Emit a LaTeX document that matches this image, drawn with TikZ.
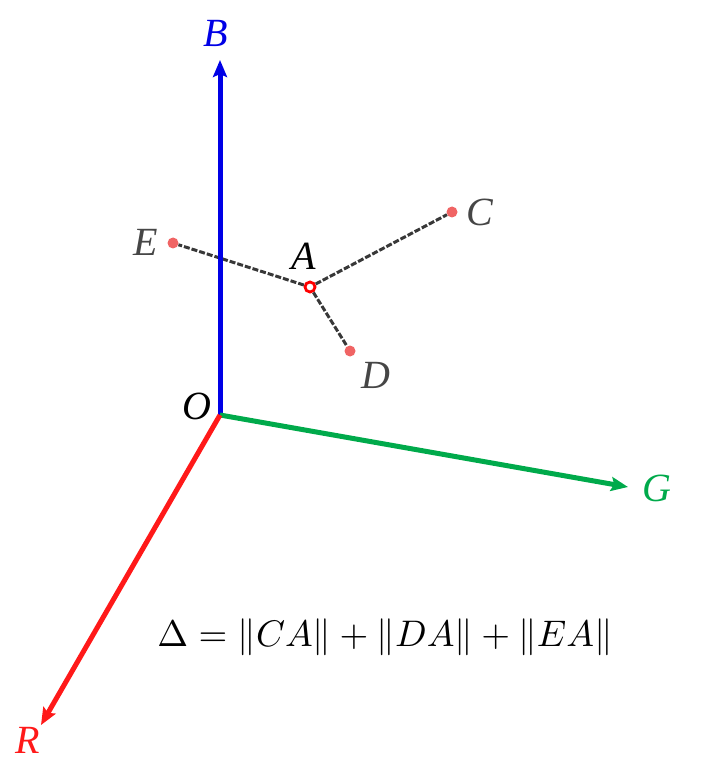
\documentclass[tikz,border=0pt]{standalone}
\usepackage{fontspec}
\usepackage{graphicx}
\setmainfont{Liberation Serif}
\usetikzlibrary{arrows.meta}
\definecolor{axB}{RGB}{0,0,230}
\definecolor{axG}{RGB}{0,170,75}
\definecolor{axR}{RGB}{255,25,25}
\definecolor{ptc}{RGB}{240,100,100}
\definecolor{lblg}{RGB}{70,70,70}
\begin{document}
\begin{tikzpicture}[x=1pt,y=-1pt,
  axis/.style={line width=5pt,-{Stealth[length=17pt,width=14pt,inset=3pt]}},
  link/.style={dash pattern=on 6pt off 2pt,line width=3pt,draw=black!78},
  pt/.style={circle,fill=ptc,inner sep=0pt,minimum size=11pt},
  lbl/.style={font=\fontsize{40}{42}\selectfont\itshape,inner sep=0pt}]
\useasboundingbox (0,0) rectangle (711,775);
\coordinate (O) at (220,415);
\coordinate (Bt) at (220,60);
\coordinate (Gt) at (628,487);
\coordinate (Rt) at (41,725);
\node[pt] (C) at (452,212) {};
\node[pt] (D) at (350,351) {};
\node[pt] (E) at (173,243) {};
\node[circle,draw=red,line width=2.8pt,fill=white,inner sep=0pt,minimum size=10pt] (A) at (310,287) {};
\draw[link] (A) -- (C);
\draw[link] (A) -- (D);
\draw[link] (A) -- (E);
\draw[axis,axB] (O) -- (Bt);
\draw[axis,axG] (O) -- (Gt);
\draw[axis,axR] (O) -- (Rt);
\node[lbl,text=axB] (lB) at (216,33) {B};
\node[lbl,text=axG] (lG) at (657,488) {G};
\node[lbl,text=axR] (lR) at (28,740) {R};
\node[lbl] (lO) at (197,406) {O};
\node[lbl] (lA) at (304,256) {A};
\node[lbl,text=lblg] (lC) at (480,212) {C};
\node[lbl,text=lblg] (lD) at (376,375) {D};
\node[lbl,text=lblg] (lE) at (146,242) {E};
\node[inner sep=0pt] (F) at (385,637) {\scalebox{3.7}{$\Delta = \|CA\| + \|DA\| + \|EA\|$}};
\end{tikzpicture}
\end{document}
